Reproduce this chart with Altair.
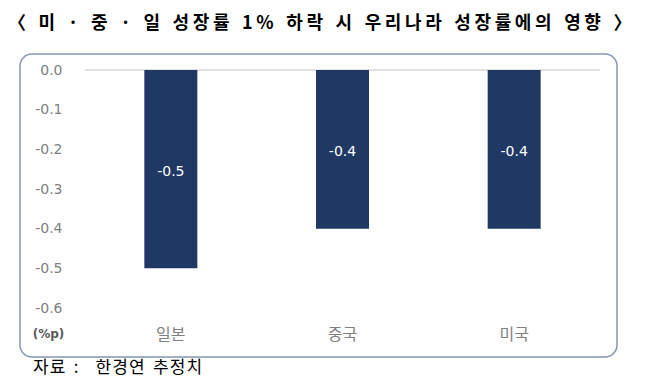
import altair as alt
import pandas as pd

categories = ["일본", "중국", "미국"]
values = [-0.5, -0.4, -0.4]
labels = ["-0.5", "-0.4", "-0.4"]
y_ticks = [0.0, -0.1, -0.2, -0.3, -0.4, -0.5, -0.6]

title_raw = "〈 미 · 중 · 일 성장률 1% 하락 시 우리나라 성장률에의 영향 〉"
footer_parts = ["자료", ":", "", "한경연", "추정치"]


def spaced(s, gap, space):
    words = s.split(" ")
    return space.join(gap.join(w) for w in words)


title_text = spaced(title_raw, "\u2009", "\u2002\u2009")
footer_text = "\u2002".join("\u200a".join(p) for p in footer_parts)

df = pd.DataFrame({"country": categories, "value": values, "label": labels})
one = pd.DataFrame({"k": [0]})

W, H = 515, 238
FONT = "Noto Sans CJK KR"

x_axis = alt.Axis(labelAngle=0, labelFont=FONT, labelFontSize=16,
                  labelColor="#808080", labelPadding=18,
                  domain=False, ticks=False, grid=False)
y_axis = alt.Axis(values=y_ticks, labelOverlap=False,
                  labelExpr="datum.value == 0 ? '0.0' : '-' + format(-datum.value, '.1f')",
                  labelFont="DejaVu Sans",
                  labelFontSize=14, labelColor="#808080", labelPadding=23,
                  domain=False, ticks=False, grid=False,
                  titleAngle=0, titleX=-37, titleY=263, titleAlign="center",
                  titleBaseline="middle", titleFont="DejaVu Sans",
                  titleFontSize=12, titleFontWeight="bold", titleColor="#595959")
y_scale = alt.Scale(domain=[-0.6, 0], nice=False)

box = alt.Chart(one).mark_rect(
    fillOpacity=0, stroke="#8496B0", strokeWidth=1.5, cornerRadius=12
).encode(
    x=alt.value(-65), x2=alt.value(532), y=alt.value(-16), y2=alt.value(287)
)

bars = alt.Chart(df).mark_bar(color="#1F3864", size=53).encode(
    x=alt.X("country:N", sort=categories, title=None, axis=x_axis),
    y=alt.Y("value:Q", scale=y_scale, title="(%p)", axis=y_axis),
)

zero = alt.Chart(one).transform_calculate(zero="0").mark_rule(
    color="#D9D9D9", strokeWidth=1.5
).encode(
    y=alt.Y("zero:Q", scale=y_scale, title="(%p)", axis=y_axis),
    x=alt.value(0), x2=alt.value(W)
)

text = alt.Chart(df).transform_calculate(mid="datum.value / 2").mark_text(
    color="white", font="DejaVu Sans", fontSize=14, baseline="middle", dy=3
).encode(
    x=alt.X("country:N", sort=categories, title=None, axis=x_axis),
    y=alt.Y("mid:Q", scale=y_scale, title="(%p)", axis=y_axis),
    text="label:N",
)

title = alt.Chart(one).mark_text(
    text=title_text, font=FONT, fontSize=18, fontWeight="bold", color="black",
    align="left", baseline="middle"
).encode(x=alt.value(-77), y=alt.value(-46))

footer = alt.Chart(one).mark_text(
    text=footer_text, font=FONT, fontSize=17, color="black",
    align="left", baseline="middle"
).encode(x=alt.value(-52), y=alt.value(298))

chart = alt.layer(box, zero, bars, text, title, footer).properties(
    width=W, height=H,
    background="white",
    autosize=alt.AutoSizeParams(type="none"),
    padding={"left": 77, "top": 62, "right": 45, "bottom": 72},
).configure_view(strokeWidth=0, stroke="transparent")

chart.save("out.html", embed_options={"renderer": "svg", "actions": False})
